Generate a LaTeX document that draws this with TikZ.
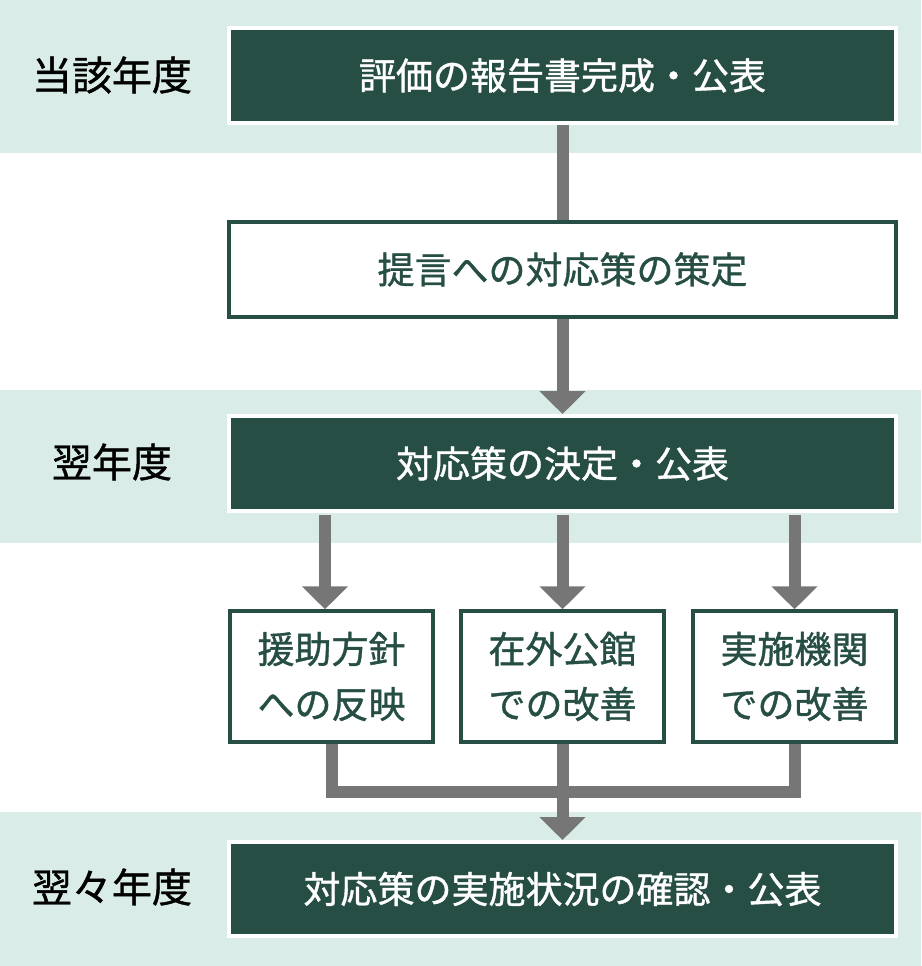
\documentclass[tikz,border=0pt]{standalone}
\usepackage{fontspec}
\setmainfont{Noto Sans CJK JP}[BoldFont=Noto Sans CJK JP,BoldFeatures={FakeBold=1.0}]
\usetikzlibrary{arrows.meta,calc}
\definecolor{darkgreen}{HTML}{264E44}
\definecolor{bandgreen}{HTML}{D9ECE7}
\definecolor{arrowgray}{HTML}{767676}

\begin{document}
\begin{tikzpicture}[x=1pt,y=-1pt,
    yearbox/.style={fill=darkgreen,draw=white,line width=4pt,text=white,
        minimum width=667pt,minimum height=95pt,font=\fontsize{37}{44}\selectfont\bfseries},
    planbox/.style={fill=white,draw=darkgreen,line width=3.5pt,text=darkgreen,
        minimum width=667pt,minimum height=95pt,font=\fontsize{37}{44}\selectfont\bfseries},
    actbox/.style={fill=white,draw=darkgreen,line width=3.5pt,text=darkgreen,
        minimum width=203pt,minimum height=131pt,align=center,
        font=\fontsize{37}{55}\selectfont\bfseries},
    yearlabel/.style={text=black,font=\fontsize{40}{48}\selectfont\bfseries},
    link/.style={draw=arrowgray,line width=12pt},
    linkhead/.style={link,-{Triangle[width=45pt,length=23pt]}}]

                \useasboundingbox (0,0) rectangle (921,966);
                % year bands
                \fill[bandgreen] (0,0) rectangle (921,153);
                \fill[bandgreen] (0,390) rectangle (921,543);
                \fill[bandgreen] (0,812) rectangle (921,966);

                \node[yearlabel] (year1) at (112,75)  {当該年度};
                \node[yearlabel] (year2) at (112,462) {翌年度};
                \node[yearlabel] (year3) at (112,887) {翌々年度};

                \node[yearbox] (report)  at (562.5,75.5)  {評価の報告書完成・公表};
                \node[planbox] (plan)    at (562.5,269.5) {提言への対応策の策定};
                \node[yearbox] (decide)  at (562.5,463.5) {対応策の決定・公表};
                \node[actbox]  (aid)     at (331.5,676.5) {援助方針\\への反映};
                \node[actbox]  (embassy) at (562.5,676.5) {在外公館\\での改善};
                \node[actbox]  (agency)  at (794.5,676.5) {実施機関\\での改善};
                \node[yearbox,minimum height=94pt] (check) at (562.5,889) {対応策の実施状況の確認・公表};

                % connectors
                \draw[link] (report.south) -- (plan.north);
                \draw[linkhead] (plan.south) -- (decide.north);
                \draw[linkhead,shorten <=2pt] ([xshift=-6.5pt]decide.south -| aid.north) -- ([xshift=-6.5pt]aid.north);
                \draw[linkhead,shorten <=2pt] (decide.south -| embassy.north) -- (embassy.north);
                \draw[linkhead,shorten <=2pt] (decide.south -| agency.north) -- (agency.north);
                \coordinate (merge) at ($(embassy.south)+(0,48)$);
                \draw[link] (aid.south) |- (merge) -| (agency.south);
                \draw[linkhead] (embassy.south) -- (check.north);
            \end{tikzpicture}
\end{document}
